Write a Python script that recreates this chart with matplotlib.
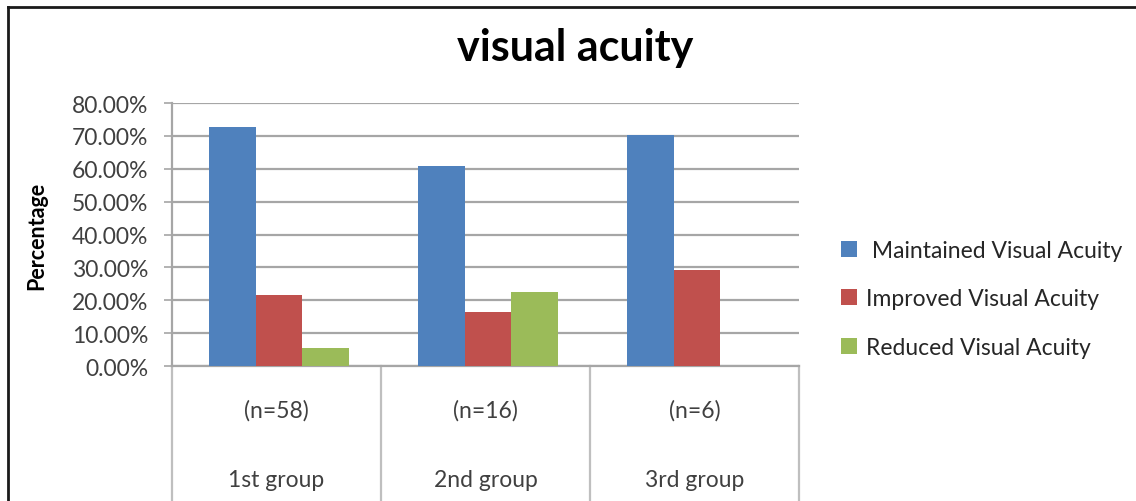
import matplotlib.pyplot as plt
from matplotlib.lines import Line2D
from matplotlib.patches import Patch
from matplotlib.ticker import PercentFormatter
import numpy as np

plt.rcParams['font.family'] = ['Lato', 'DejaVu Sans']

groups = ['1st group', '2nd group', '3rd group']
sizes = ['(n=58)', '(n=16)', '(n=6)']
series = ['Maintained Visual Acuity', 'Improved Visual Acuity', 'Reduced Visual Acuity']
maintained = [72.7, 60.8, 70.2]
improved = [21.6, 16.3, 29.2]
reduced = [5.4, 22.5, 0.0]
colors = ['#4F81BD', '#C0504D', '#9BBB59']

fig = plt.figure(figsize=(11.36, 5.02), dpi=100)
ax = fig.add_axes([0.1514, 0.2689, 0.5519, 0.5239])

x = np.arange(len(groups))
w = 1 / 4.5
for i, (vals, c) in enumerate(zip([maintained, improved, reduced], colors)):
    ax.bar(x + (i - 1) * w + 0.012, vals, w, color=c, zorder=3)

grid_c = '#A6A6A6'
ax.set_xlim(-0.5, 2.5)
ax.set_ylim(0, 80)
ax.set_yticks(np.arange(0, 81, 10))
ax.yaxis.set_major_formatter(PercentFormatter(decimals=2))
ax.yaxis.grid(True, color=grid_c, lw=1.6, zorder=0)
ax.set_xticks([])
ax.tick_params(axis='y', length=6, width=1.2, color=grid_c, labelsize=16.5,
               labelcolor='#404040', pad=11)
for s in ['top', 'right']:
    ax.spines[s].set_visible(False)
for s in ['left', 'bottom']:
    ax.spines[s].set_color(grid_c)
    ax.spines[s].set_linewidth(1.6)

# two-level category axis below the plot
for xs in [-0.5, 0.5, 1.5, 2.5]:
    ax.plot([xs, xs], [0, -0.52], color='#BFBFBF', lw=1.6, clip_on=False,
            transform=ax.get_xaxis_transform())
for xi, n, g in zip(x, sizes, groups):
    ax.text(xi, -0.165, n, ha='center', va='center', fontsize=16.5,
            color='#404040', transform=ax.get_xaxis_transform())
    ax.text(xi, -0.43, g, ha='center', va='center', fontsize=16.5,
            color='#404040', transform=ax.get_xaxis_transform())

ax.set_ylabel('Percentage', fontsize=15.5, fontweight='bold', labelpad=18)
fig.text(0.506, 0.905, 'visual acuity', ha='center', va='center',
         fontsize=31, fontweight='bold')

handles = [Patch(facecolor=c) for c in colors]
fig.legend(handles, [' ' + series[0], series[1], series[2]],
           loc='center left', bbox_to_anchor=(0.722, 0.403), frameon=False,
           fontsize=16.5, handlelength=0.72, handleheight=0.72,
           handletextpad=0.4, labelspacing=1.2, labelcolor='#262626')

# outer frame edges
fig.add_artist(Line2D([0.007, 1.0], [0.984, 0.984], color='#1a1a1a', lw=2,
                      transform=fig.transFigure))
fig.add_artist(Line2D([0.007, 0.007], [0.0, 0.984], color='#1a1a1a', lw=2,
                      transform=fig.transFigure))

fig.savefig('out.png', dpi=100)
